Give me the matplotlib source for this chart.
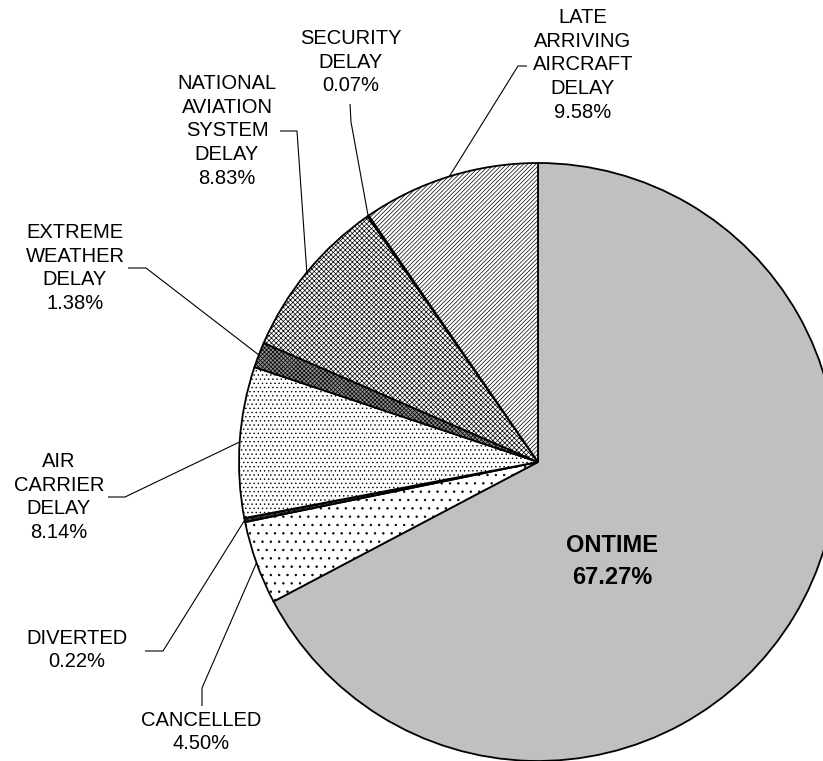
import matplotlib
matplotlib.use("Agg")
import matplotlib.pyplot as plt
import numpy as np

# ---- data ----
categories = ["ONTIME", "CANCELLED", "DIVERTED", "AIR CARRIER DELAY",
              "EXTREME WEATHER DELAY", "NATIONAL AVIATION SYSTEM DELAY",
              "SECURITY DELAY", "LATE ARRIVING AIRCRAFT DELAY"]
values = [67.27, 4.50, 0.22, 8.14, 1.38, 8.83, 0.07, 9.58]
label_text = ["ONTIME", "CANCELLED", "DIVERTED", "AIR\nCARRIER\nDELAY",
              "EXTREME\nWEATHER\nDELAY", "NATIONAL\nAVIATION\nSYSTEM\nDELAY",
              "SECURITY\nDELAY", "LATE\nARRIVING\nAIRCRAFT\nDELAY"]

# ---- styles ----
face_colors = ["#c0c0c0", "white", "#404040", "white", "#909090", "white", "white", "white"]
hatches = [None, "..", "xxxxxx", "....", "xxxxxxxx", "xxxxxxx", None, "////////"]

plt.rcParams["font.family"] = ["Liberation Sans", "DejaVu Sans"]
plt.rcParams["hatch.linewidth"] = 0.5

W, H = 823, 761
fig = plt.figure(figsize=(W / 100, H / 100), dpi=100)
ax = fig.add_axes([0, 0, 1, 1])

cx, cy, R = 538, H - 462, 299
wedges, _ = ax.pie(values, colors=face_colors, startangle=90, counterclock=False,
                   center=(cx, cy), radius=R,
                   wedgeprops=dict(edgecolor="black", linewidth=1.3))
for w, h in zip(wedges, hatches):
    if h:
        w.set_hatch(h)

ax.set_xlim(0, W)
ax.set_ylim(0, H)
ax.set_aspect("equal")
ax.axis("off")

# ---- labels (layout in image pixel coords: x, y-from-top) ----
layout = {
    1: dict(txt=(201, 732), path=[(202, 706), (202, 688)]),
    2: dict(txt=(77, 650), path=[(145, 651), (163, 651)]),
    3: dict(txt=(59, 497), path=[(108, 497), (125, 497)]),
    4: dict(txt=(75, 268), path=[(128, 268), (146, 268)]),
    5: dict(txt=(227, 131), path=[(280, 131), (297, 131)]),
    6: dict(txt=(351, 62), path=[(350, 104), (351, 122)]),
    7: dict(txt=(583, 65), path=[(527, 66), (518, 66)]),
}

for i, spec in layout.items():
    tx, ty = spec["txt"]
    ax.text(tx, H - ty, f"{label_text[i]}\n{values[i]:.2f}%", ha="center", va="center",
            multialignment="center", fontsize=14.5, linespacing=1.33, color="black")
    w = wedges[i]
    th = np.deg2rad((w.theta1 + w.theta2) / 2)
    ex, ey = cx + R * np.cos(th), cy + R * np.sin(th)
    xs = [p[0] for p in spec["path"]] + [ex]
    ys = [H - p[1] for p in spec["path"]] + [ey]
    ax.plot(xs, ys, color="black", lw=0.8, solid_capstyle="butt")

ax.text(612, H - 562, f"{label_text[0]}\n{values[0]:.2f}%", ha="center", va="center",
        multialignment="center", fontsize=17, fontweight="bold", linespacing=1.5)

fig.savefig("out.png", dpi=100)
